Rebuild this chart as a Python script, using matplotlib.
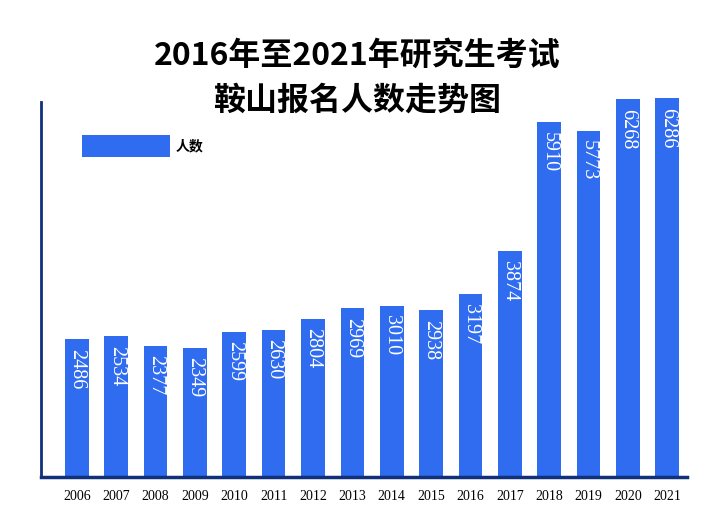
import matplotlib
matplotlib.use('Agg')
import matplotlib.pyplot as plt

plt.rcParams['font.family'] = ['Noto Sans CJK SC', 'DejaVu Sans']

# --- Data ---
years = ['2006', '2007', '2008', '2009', '2010', '2011', '2012', '2013',
         '2014', '2015', '2016', '2017', '2018', '2019', '2020', '2021']
counts = [2486, 2534, 2377, 2349, 2599, 2630, 2804, 2969,
          3010, 2938, 3197, 3874, 5910, 5773, 6268, 6286]
series_name = '人数'
title_lines = ['2016年至2021年研究生考试', '鞍山报名人数走势图']

bar_color = '#2f6cf0'
axis_color = '#10307a'

fig = plt.figure(figsize=(7.2, 5.29), dpi=100)
ax = fig.add_axes([0.057, 0.098, 0.897, 0.736])

x = list(range(len(years)))
bars = ax.bar(x, counts, width=0.6, color=bar_color, label=series_name, zorder=2)

# y axis doesn't start at zero in the original
ax.set_xlim(-0.91, 15.5)
ax.set_ylim(304, 6447)

for rect, v in zip(bars, counts):
    ax.annotate(str(v), (rect.get_x() + rect.get_width() / 2, rect.get_height() + rect.get_y()),
                xytext=(0, -7), textcoords='offset points',
                ha='center', va='top', rotation=-90, color='white',
                fontsize=14.5, family='Liberation Serif')

ax.set_xticks(x)
ax.set_xticklabels(years, family='Liberation Serif', fontsize=10)
ax.tick_params(axis='x', length=0, pad=9)
ax.set_yticks([])

for s in ['top', 'right']:
    ax.spines[s].set_visible(False)
ax.spines['left'].set_color(axis_color)
ax.spines['left'].set_linewidth(2)
ax.spines['left'].set_bounds(304, 6225)
ax.spines['bottom'].set_color(axis_color)
ax.spines['bottom'].set_linewidth(2.5)

ax.legend(loc='upper left', bbox_to_anchor=(0.1064, 0.7556), bbox_transform=fig.transFigure,
          frameon=False, handlelength=6.3, handleheight=2.06, handletextpad=0.4,
          prop={'size': 10, 'weight': 'bold', 'family': ['Noto Sans CJK SC']}, borderaxespad=0)

fig.text(0.496, 1 - 56 / 529, title_lines[0], ha='center', va='center',
         fontsize=23, weight='heavy')
fig.text(0.496, 1 - 101 / 529, title_lines[1], ha='center', va='center',
         fontsize=23, weight='heavy')

fig.savefig('out.png', dpi=100)
